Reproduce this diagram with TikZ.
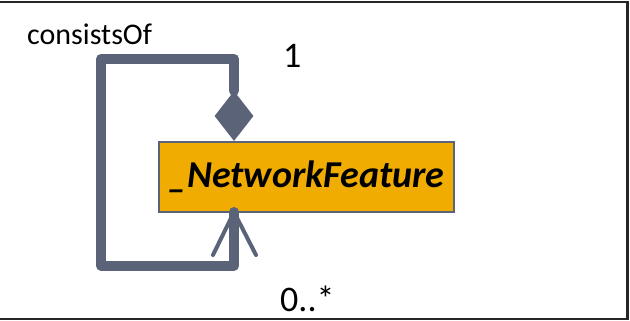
\documentclass[tikz,border=0pt]{standalone}
\usepackage{fontspec}
\setmainfont{Carlito}
\usetikzlibrary{shapes.geometric}
\definecolor{linkgrey}{HTML}{5B6378}
\definecolor{classfill}{HTML}{F0AC00}
\tikzset{
  frameline/.style={draw=black!85, line width=2.8pt},
  classbox/.style={draw=linkgrey, fill=classfill, line width=2.5pt,
    minimum width=295pt, minimum height=70pt, inner sep=0pt,
    font=\fontsize{38}{45}\selectfont\bfseries\itshape},
  assocline/.style={draw=linkgrey, line width=10pt, line join=round, line cap=round},
  footline/.style={draw=linkgrey, line width=4pt, line cap=round},
  composite/.style={diamond, fill=linkgrey, inner sep=0pt,
    minimum width=39pt, minimum height=50pt},
  rolelabel/.style={anchor=base west, inner sep=0pt}
}
\begin{document}
\begin{tikzpicture}[x=1pt, y=-1pt]
  \useasboundingbox (0,0) rectangle (630,321);
  % outer frame (top, right, bottom)
  \draw[frameline] (0,2) -- (627.5,2) -- (627.5,319) -- (0,319);

  % class
  \node[classbox] (nf) at (306.5,177) {\_NetworkFeature};

  % self-association: composite end at the top, many end at the bottom
  \node[composite] (dia) at (234,116) {};
  \coordinate (foot) at (234,212);
  \coordinate (footL) at (213,255);
  \coordinate (footR) at (256,255);
  \draw[assocline] (dia.north) -- (234,59) -- (101,59) -- (101,265.5)
    -- (234,265.5) -- (foot);
  \draw[footline] (foot) -- (footL);
  \draw[footline] (foot) -- (footR);

  % labels
  \node[rolelabel, font=\fontsize{30}{36}\selectfont] (name) at (27,45) {consistsOf};
  \node[rolelabel, font=\fontsize{36}{43}\selectfont] (mtop) at (283,67.5) {1};
  \node[rolelabel, font=\fontsize{36}{43}\selectfont] (mbot) at (280,311) {0..*};
\end{tikzpicture}
\end{document}
